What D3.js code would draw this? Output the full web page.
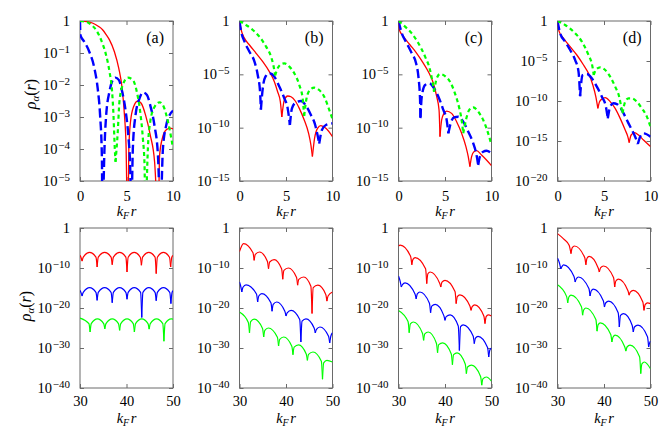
<!DOCTYPE html>
<html>
<head>
<meta charset="utf-8">
<script src="https://cdn.jsdelivr.net/npm/d3@7"></script>
<style>
  body { margin: 0; background: #fff; }
  svg, svg text { font-family: "Liberation Serif", "DejaVu Serif", serif; }
</style>
</head>
<body>
<script>
// values are [k_F r, log10 rho]

// --- top row, k_F r = 0..10 ---
var redA = [[0,0],[0.8,-0.02],[1.4,-0.07],[2.0,-0.17],[2.45,-0.28],[2.8,-0.42],[3.17,-0.59],[3.7,-0.96],[4.17,-1.48],[4.53,-2.1],[4.78,-2.94],[4.96,-3.98],[5.13,-7],
  [5.25,-3.98],[5.43,-3.15],[5.76,-2.68],[6.22,-2.5],[6.58,-2.57],[7.05,-2.94],[7.55,-3.56],[8.02,-4.4],[8.42,-7],
  [8.56,-4.19],[8.85,-3.67],[9.28,-3.4],[9.71,-3.35],[10,-3.37]];
var blueA = [[0,0],[0.04,-0.44],[0.47,-0.65],[1.0,-0.96],[1.55,-1.48],[1.9,-2.1],[2.16,-2.94],[2.35,-4.2],[2.42,-7],
  [2.6,-4.3],[2.8,-3.0],[3.17,-2.2],[3.53,-1.84],[3.81,-1.77],[4.17,-1.84],[4.53,-2.2],[4.9,-2.8],[5.2,-3.6],[5.4,-4.6],[5.52,-7],
  [5.68,-4.0],[5.97,-2.94],[6.4,-2.42],[6.76,-2.23],[7.2,-2.31],[7.55,-2.63],[8.0,-3.25],[8.38,-4.19],[8.65,-7],
  [8.92,-3.98],[9.28,-3.25],[9.64,-2.94],[10,-2.8]];
var greenA = [[0,0],[0.65,-0.02],[1.2,-0.12],[1.73,-0.28],[2.27,-0.59],[2.8,-1.06],[3.17,-1.58],[3.45,-2.2],[3.6,-2.94],[3.74,-3.98],[3.82,-4.4],
  [4.06,-3.46],[4.24,-2.52],[4.6,-2.0],[5.14,-1.77],[5.68,-1.84],[6.1,-2.2],[6.47,-2.83],[6.76,-3.67],[6.94,-4.5],[7.02,-7],
  [7.3,-3.98],[7.55,-3.15],[8.02,-2.68],[8.56,-2.54],[9.0,-2.68],[9.46,-3.15],[9.82,-3.67],[10,-3.98]];

var redB = [[0,0],[0.18,-0.84],[0.54,-1.63],[1.07,-2.25],[1.79,-3.03],[2.5,-3.81],[3.21,-4.75],[3.75,-5.69],[4.1,-6.63],[4.39,-7.56],[4.55,-9.0],
  [4.82,-7.4],[5.18,-7.03],[5.54,-7.1],[6.0,-7.5],[6.43,-8.19],[6.96,-9.28],[7.43,-10.53],[7.68,-11.63],[7.84,-12.7],
  [8.07,-11.0],[8.39,-10.06],[8.75,-9.81],[9.29,-10.06],[10,-10.84]];
var blueB = [[0,0],[0.18,-1.0],[0.54,-1.94],[1.07,-2.88],[1.61,-3.81],[1.96,-5.06],[2.21,-6.63],[2.3,-8.3],
  [2.5,-6.31],[2.79,-5.22],[3.21,-4.9],[3.75,-5.22],[4.29,-6.16],[4.82,-7.25],[5.18,-8.19],[5.42,-9.75],
  [5.64,-8.19],[6.07,-7.63],[6.6,-7.5],[7.14,-7.94],[7.68,-8.81],[8.14,-9.75],[8.39,-10.69],[8.57,-11.5],
  [8.86,-10.22],[9.29,-9.75],[10,-9.6]];
var greenB = [[0,0],[0.71,-0.38],[1.43,-0.84],[2.14,-1.47],[2.86,-2.4],[3.39,-3.34],[3.64,-4.13],[3.83,-5.1],
  [4.1,-4.44],[4.46,-4.06],[4.82,-3.97],[5.36,-4.28],[5.89,-4.9],[6.43,-6.0],[6.79,-7.25],[6.95,-8.9],
  [7.21,-7.25],[7.57,-6.47],[8.04,-6.25],[8.57,-6.47],[9.11,-7.1],[9.64,-8.3],[10,-9.2]];

var redC = [[0,0],[0.1,-0.84],[0.54,-1.47],[1.25,-2.25],[1.96,-3.03],[2.68,-3.97],[3.21,-4.75],[3.75,-5.84],[4.11,-7.1],[4.36,-8.34],[4.46,-10.84],
  [4.64,-9.28],[4.89,-8.66],[5.18,-8.44],[5.71,-8.66],[6.25,-9.44],[6.79,-10.53],[7.25,-11.78],[7.5,-12.72],[7.68,-13.66],
  [7.86,-12.72],[8.11,-12.25],[8.39,-12.16],[8.93,-12.56],[9.46,-13.03],[10,-13.56]];
var blueC = [[0,0],[0.36,-1.16],[0.89,-2.09],[1.43,-3.03],[1.89,-3.97],[2.14,-5.22],[2.32,-7.41],[2.36,-9.1],
  [2.5,-7.1],[2.86,-6.0],[3.32,-5.84],[3.75,-6.22],[4.29,-7.1],[4.82,-8.34],[5.18,-9.28],[5.36,-10.53],
  [5.61,-9.59],[5.96,-9.03],[6.43,-8.97],[6.96,-9.44],[7.5,-10.38],[8.04,-11.47],[8.39,-12.56],[8.57,-13.5],
  [8.75,-12.72],[9.11,-12.25],[9.46,-12.16],[10,-12.41]];
var greenC = [[0,0],[0.71,-0.53],[1.43,-1.16],[2.14,-2.09],[2.86,-3.34],[3.39,-4.59],[3.68,-5.84],[3.82,-6.63],
  [4.11,-5.38],[4.46,-4.97],[5.0,-5.16],[5.54,-5.69],[6.07,-6.78],[6.54,-8.19],[6.79,-9.28],[6.96,-10.53],
  [7.25,-9.28],[7.61,-8.34],[8.04,-8.09],[8.57,-8.5],[9.11,-9.28],[9.64,-10.53],[10,-11.63]];

var redD = [[0,0],[0.18,-1.33],[0.65,-2.17],[1.36,-3.21],[2.08,-4.25],[2.8,-5.5],[3.33,-6.54],[3.8,-8.0],[4.12,-9.46],[4.34,-10.92],
  [4.52,-10.08],[4.77,-9.75],[5.13,-9.58],[5.66,-10.08],[6.2,-10.92],[6.74,-12.17],[7.28,-13.63],[7.56,-14.46],[7.71,-15.2],
  [7.92,-14.25],[8.28,-13.96],[8.71,-14.25],[9.25,-14.88],[10,-15.7]];
var blueD = [[0,0],[0.29,-1.54],[0.82,-2.58],[1.36,-3.63],[1.9,-4.88],[2.26,-6.33],[2.43,-9.4],
  [2.69,-6.75],[3.15,-6.63],[3.69,-7.17],[4.23,-8.21],[4.77,-9.46],[5.2,-10.7],[5.41,-12.17],
  [5.66,-10.7],[6.02,-10.29],[6.38,-10.38],[6.92,-11.13],[7.46,-12.38],[8.0,-13.63],[8.35,-14.46],[8.64,-15.38],
  [8.89,-14.46],[9.25,-14.04],[10,-14.46]];
var greenD = [[0,0],[0.82,-0.5],[1.72,-1.33],[2.62,-2.58],[3.33,-4.25],[3.76,-5.71],[3.9,-6.75],
  [4.16,-6.04],[4.59,-5.79],[5.13,-6.13],[5.66,-6.96],[6.2,-8.21],[6.63,-9.46],[6.85,-10.71],[6.99,-11.54],
  [7.28,-10.08],[7.63,-9.67],[7.99,-9.67],[8.53,-10.08],[9.07,-10.92],[9.61,-11.96],[10,-13.21]];

// --- bottom row, k_F r = 30..50 ---
var redE = [[30,-6.8],[30.2,-7.3],[30.45,-8.3],[30.7,-7.3],[32.07,-6.1],[33.43,-7.3],[33.68,-9.75],[33.93,-7.3],[35.3,-6.1],[36.68,-7.3],[36.93,-9.2],[37.18,-7.3],
  [38.52,-6.1],[39.86,-7.3],[40.11,-11],[40.36,-7.3],[41.66,-6.1],[42.96,-7.3],[43.21,-9.3],[43.46,-7.3],[44.8,-6.1],[46.14,-7.3],[46.39,-11.4],[46.64,-7.3],
  [47.94,-6.1],[49.24,-7.3],[49.49,-9.75],[49.74,-7.3],[50,-6.9]];
var blueE = [[30,-15.6],[30.2,-16.1],[30.45,-17],[30.7,-16.1],[32.07,-14.9],[33.43,-16.1],[33.68,-18.1],[33.93,-16.1],[35.3,-14.9],[36.68,-16.1],[36.93,-18.7],[37.18,-16.1],
  [38.52,-14.9],[39.86,-16.1],[40.11,-17.8],[40.36,-16.1],[41.66,-14.9],[43.03,-16.1],[43.28,-22.4],[43.53,-16.1],[44.8,-14.9],[46.14,-16.1],[46.39,-18.2],[46.64,-16.1],
  [47.94,-14.9],[49.3,-16.1],[49.55,-18.9],[49.8,-16.1],[50,-15.7]];
var greenE = [[30,-22.5],[31.92,-23.9],[32.17,-26],[32.42,-23.9],[33.75,-22.7],[35.09,-23.9],[35.34,-25.2],[35.59,-23.9],[36.93,-22.7],[38.27,-23.9],[38.52,-25.6],[38.77,-23.9],
  [40.11,-22.7],[41.45,-23.9],[41.7,-26],[41.95,-23.9],[43.29,-22.7],[44.62,-23.9],[44.87,-25.3],[45.12,-23.9],[46.46,-22.7],[47.8,-23.9],[48.05,-28.3],[48.3,-23.9],
  [49.63,-22.7],[50,-22.8]];

var redF = [[30,-5.9],[30.86,-3.9],[32.9,-6.2],[33.15,-8.1],[33.4,-6.6],[34.3,-6.0],[35.99,-8.3],[36.24,-10.2],[36.49,-8.5],[37.45,-7.9],[39.05,-10.2],[39.3,-12.8],[39.55,-10.6],
  [40.5,-10.0],[42.25,-12.3],[42.5,-14.3],[42.75,-12.85],[43.8,-12.25],[45.35,-14.55],[45.6,-21.4],[45.85,-14.9],[46.85,-14.3],[48.55,-16.6],[48.8,-18.3],[49.05,-17.0],[50,-16.0]];
var blueF = [[30,-13.5],[30.25,-14.5],[30.5,-16],[30.75,-14.8],[31.4,-14.2],[33.65,-16.5],[33.9,-18.5],[34.15,-17.0],[34.8,-16.4],[36.75,-18.7],[37,-20.8],[37.25,-19.1],[38,-18.5],
  [39.75,-20.8],[40,-22],[40.25,-21.2],[41.1,-20.6],[42.95,-22.9],[43.2,-28.5],[43.45,-23.3],[44.3,-22.7],[46.05,-25.0],[46.3,-26.2],[46.55,-25.35],[47.3,-24.75],
  [49.15,-27.05],[49.4,-28.7],[49.65,-27.0],[50,-26.2]];
var greenF = [[30,-21],[31.9,-23.6],[32.15,-26.2],[32.4,-23.4],[33.15,-22.8],[34.95,-25.1],[35.2,-27.25],[35.45,-25.6],[36.2,-25],[38.15,-27.3],[38.4,-29.5],[38.65,-27.85],
  [39.5,-27.25],[41.25,-29.55],[41.5,-31.7],[41.75,-29.8],[42.7,-29.2],[44.35,-31.5],[44.6,-33.1],[44.85,-31.6],[45.8,-31],[47.6,-33.3],[47.85,-37.8],[48.1,-33.7],
  [48.8,-33.1],[50,-33.5]];

var redG = [[30,-4.5],[30.36,-4.3],[32.61,-7.1],[32.86,-9.2],[33.11,-7.85],[33.57,-7.4],[35.82,-10.2],[36.07,-13.9],[36.32,-11.45],[36.8,-11],[38.85,-13.8],[39.1,-14.75],[39.35,-13.55],
  [40,-13.1],[42.15,-15.9],[42.4,-18.9],[42.65,-17.15],[43.2,-16.7],[45.35,-19.5],[45.6,-20.6],[45.85,-19.65],[46.4,-19.2],[48.35,-22.0],[48.6,-23.9],[48.85,-22.15],
  [49.3,-21.7],[50,-22]];
var blueG = [[30,-12],[30.35,-13.3],[30.6,-14.75],[30.85,-14.15],[31.4,-13.7],[33.55,-16.5],[33.8,-17.7],[34.05,-16.45],[34.6,-16],[36.65,-18.8],[36.9,-21.2],[37.15,-19.55],
  [37.9,-19.1],[39.75,-21.9],[40,-23.1],[40.25,-22.15],[41.1,-21.7],[42.85,-24.5],[43.1,-30.6],[43.35,-24.65],[43.9,-24.2],[46.05,-27.0],[46.3,-28.9],[46.55,-27.55],
  [47.1,-27.1],[49.15,-29.9],[49.4,-32.25],[49.65,-30.5],[50,-30]];
var greenG = [[30,-20.6],[32.05,-23.4],[32.3,-26.2],[32.55,-23.95],[33.2,-23.5],[35.15,-26.3],[35.4,-28.1],[35.65,-26.45],[36.4,-26],[38.15,-28.8],[38.4,-31.2],[38.65,-29.15],
  [39.5,-28.7],[41.35,-31.5],[41.6,-34.2],[41.85,-31.65],[42.6,-31.2],[44.35,-34.0],[44.6,-36.4],[44.85,-34.75],[45.7,-34.3],[47.65,-37.1],[47.9,-39.3],[48.15,-37.7],
  [48.9,-37.25],[50,-38.3]];

var redH = [[30,-1.4],[31.3,-2.7],[32.5,-4.3],[32.9,-6.4],[33.15,-4.95],[33.65,-4.5],[35.85,-7.4],[36.1,-9.2],[36.35,-7.55],[36.8,-7.1],[38.75,-10.0],[39,-11],[39.25,-9.95],
  [39.9,-9.5],[42.05,-12.4],[42.3,-14.75],[42.55,-13.25],[43.1,-12.8],[45.15,-15.7],[45.4,-16.8],[45.65,-16.05],[46.3,-15.6],[48.35,-18.5],[48.6,-20.6],[48.85,-19.15],
  [49.35,-18.7],[50,-18.9]];
var blueH = [[30,-7.5],[30.45,-8.9],[30.7,-10.2],[30.95,-9.65],[31.3,-9.2],[33.55,-12.1],[33.8,-13.5],[34.05,-12.7],[34.5,-12.25],[36.75,-15.15],[37,-17],[37.25,-15.75],
  [37.7,-15.3],[39.85,-18.2],[40.1,-19.75],[40.35,-18.75],[41,-18.3],[43.05,-21.2],[43.3,-24.75],[43.55,-21.85],[44.2,-21.4],[46.05,-24.3],[46.3,-26],[46.55,-24.75],
  [47.3,-24.3],[49.35,-27.2],[49.6,-29.75],[49.85,-28.6],[50,-28.3]];
var greenH = [[30,-14.2],[31.95,-17.1],[32.2,-18.7],[32.45,-17.25],[32.9,-16.8],[35.15,-19.7],[35.4,-21.8],[35.65,-20.45],[36.1,-20],[38.25,-22.9],[38.5,-25.8],[38.75,-24.15],
  [39.2,-23.7],[41.45,-26.6],[41.7,-28.5],[41.95,-27.25],[42.4,-26.8],[44.45,-29.7],[44.7,-30.8],[44.95,-29.75],[45.6,-29.3],[47.65,-32.2],[47.9,-36.4],[48.15,-33.95],
  [48.7,-33.5],[50,-35.2]];

// tick values (x in k_F r, y as exponents of ten)
var topXTicks = [0, 5, 10];
var botXTicks = [30, 40, 50];
var ticksA = [0, -1, -2, -3, -4, -5];
var ticksBC = [0, -5, -10, -15];
var ticksD = [0, -5, -10, -15, -20];
var ticksBottom = [0, -10, -20, -30, -40];
var letters = ['(a)', '(b)', '(c)', '(d)'];

var FONT = '"Liberation Serif", "DejaVu Serif", serif';
var svg = d3.select('body').append('svg').attr('width', 665).attr('height', 438)
  .attr('font-family', FONT);

var lefts = [80, 239.5, 398.5, 557.5], W = 93;
var frameColor = '#6a6a6a';
var styles = {
  top: [
    {color: '#ff0000', width: 1.3, dash: null},
    {color: '#0000ff', width: 2.4, dash: '9,4'},
    {color: '#00ff00', width: 2.2, dash: '4,3.2'}
  ],
  bottom: [
    {color: '#ff0000', width: 1.2, dash: null},
    {color: '#0000ff', width: 1.2, dash: null},
    {color: '#00ff00', width: 1.2, dash: null}
  ]
};

// split a series at its interior minima so every dip stays a sharp cusp
function splitAtDips(pts) {
  var segs = [], cur = [pts[0]];
  for (var i = 1; i < pts.length; i++) {
    cur.push(pts[i]);
    if (i < pts.length - 1 && pts[i][1] < pts[i - 1][1] && pts[i][1] < pts[i + 1][1]) {
      segs.push(cur);
      cur = [pts[i]];
    }
  }
  segs.push(cur);
  return segs;
}

function powLabel(sel) {
  sel.each(function(d) {
    var e = Math.round(Math.log10(d)), t = d3.select(this);
    t.text(null);
    if (e === 0) { t.text('1'); return; }
    t.append('tspan').text('10');
    t.append('tspan').attr('dy', -5.5).attr('dx', 0.8).attr('font-size', 11).text('\u2212' + (-e));
  });
}

function panel(i, row, xDom, xTicks, yTicks, series) {
  var top = row === 'top' ? 21 : 228, bottom = top + 160, L = lefts[i];
  var x = d3.scaleLinear().domain(xDom).range([L, L + W]);
  var y = d3.scaleLog().domain([Math.pow(10, d3.min(yTicks)), 1]).range([bottom, top]);
  var g = svg.append('g');
  var clipId = 'clip-' + row + i;
  svg.append('clipPath').attr('id', clipId)
    .append('rect').attr('x', L).attr('y', top).attr('width', W).attr('height', bottom - top);

  g.append('rect').attr('x', L).attr('y', top).attr('width', W).attr('height', bottom - top)
    .attr('fill', 'none').attr('stroke', frameColor).attr('stroke-width', 1);

  var yv = yTicks.map(function(e) { return Math.pow(10, e); });
  var ax = [
    g.append('g').attr('transform', 'translate(' + L + ',0)')
      .call(d3.axisLeft(y).tickValues(yv).tickSize(-4).tickSizeOuter(0).tickPadding(10)),
    g.append('g').attr('transform', 'translate(' + (L + W) + ',0)')
      .call(d3.axisRight(y).tickValues(yv).tickSize(-4).tickSizeOuter(0).tickFormat('')),
    g.append('g').attr('transform', 'translate(0,' + bottom + ')')
      .call(d3.axisBottom(x).tickValues(xTicks).tickSize(-4).tickSizeOuter(0).tickPadding(row === 'top' ? 10 : 8)),
    g.append('g').attr('transform', 'translate(0,' + top + ')')
      .call(d3.axisTop(x).tickValues(xTicks).tickSize(-4).tickSizeOuter(0).tickFormat(''))
  ];
  ax.forEach(function(a) {
    a.attr('font-family', FONT).attr('font-size', 14.5);
    a.select('.domain').remove();
    a.selectAll('.tick line').attr('stroke', frameColor);
    a.selectAll('.tick text').attr('fill', '#000');
  });
  ax[0].selectAll('.tick text').call(powLabel);

  var line = d3.line()
    .x(function(d) { return x(d[0]); })
    .y(function(d) { return y(Math.pow(10, d[1])); })
    .curve(d3.curveMonotoneX);
  var plot = g.append('g').attr('clip-path', 'url(#' + clipId + ')');
  series.forEach(function(s, k) {
    var st = styles[row][k];
    splitAtDips(s).forEach(function(seg) {
      plot.append('path').attr('d', line(seg))
        .attr('fill', 'none').attr('stroke', st.color).attr('stroke-width', st.width)
        .attr('stroke-dasharray', st.dash).attr('stroke-linejoin', 'round');
    });
  });

  // x label k_F r
  var cx = L + W / 2, ly = row === 'top' ? 216 : 422.5;
  var xl = g.append('text').attr('x', cx).attr('y', ly).attr('text-anchor', 'middle')
    .attr('font-size', 14.5).attr('font-style', 'italic');
  xl.append('tspan').text('k');
  xl.append('tspan').attr('dy', 3).attr('font-size', 10).text('F');
  xl.append('tspan').attr('dy', -3).attr('dx', 1.5).text('r');

  if (row === 'top') {
    g.append('text').attr('x', L + W - 9).attr('y', 43).attr('text-anchor', 'end')
      .attr('font-size', 16).text(letters[i]);
  }
}

panel(0, 'top', [0, 10], topXTicks, ticksA, [redA, blueA, greenA]);
panel(1, 'top', [0, 10], topXTicks, ticksBC, [redB, blueB, greenB]);
panel(2, 'top', [0, 10], topXTicks, ticksBC, [redC, blueC, greenC]);
panel(3, 'top', [0, 10], topXTicks, ticksD, [redD, blueD, greenD]);
panel(0, 'bottom', [30, 50], botXTicks, ticksBottom, [redE, blueE, greenE]);
panel(1, 'bottom', [30, 50], botXTicks, ticksBottom, [redF, blueF, greenF]);
panel(2, 'bottom', [30, 50], botXTicks, ticksBottom, [redG, blueG, greenG]);
panel(3, 'bottom', [30, 50], botXTicks, ticksBottom, [redH, blueH, greenH]);

// y labels rho_alpha(r)
[[36, 94], [31, 306]].forEach(function(p) {
  var t = svg.append('text').attr('transform', 'translate(' + p[0] + ',' + p[1] + ') rotate(-90)')
    .attr('text-anchor', 'middle').attr('font-size', 16);
  t.append('tspan').attr('font-style', 'italic').text('\u03c1');
  t.append('tspan').attr('font-style', 'italic').attr('font-size', 11).attr('dy', 3).text('\u03b1');
  t.append('tspan').attr('dy', -3).text('(');
  t.append('tspan').attr('font-style', 'italic').text('r');
  t.append('tspan').text(')');
});
</script>
</body>
</html>
